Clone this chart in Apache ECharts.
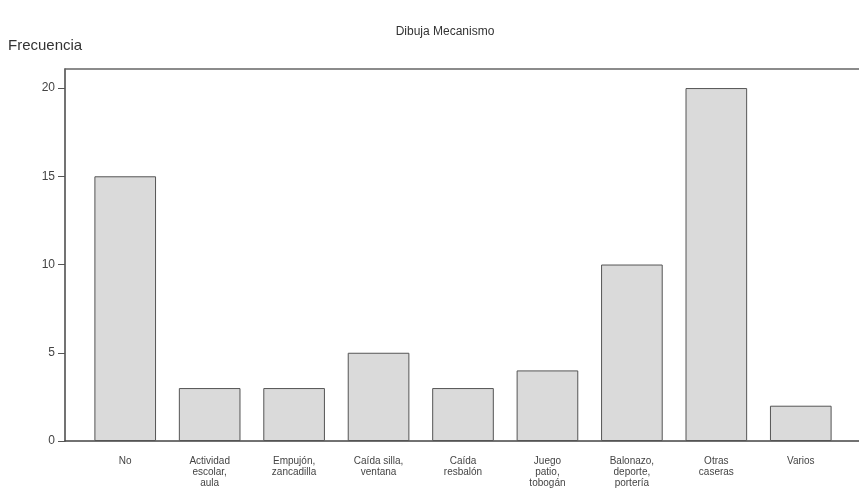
<!DOCTYPE html>
<html>
<head>
<meta charset="utf-8">
<style>
  html, body { margin: 0; padding: 0; background: #fff; }
  #chart { width: 859px; height: 492px; }
</style>
<script src="https://cdn.jsdelivr.net/npm/echarts@6/dist/echarts.min.js"></script>
</head>
<body>
<div id="chart"></div>
<script>
// datos del grafico
var categorias = ['No', 'Actividad\nescolar,\naula', 'Empujón,\nzancadilla', 'Caída silla,\nventana',
    'Caída\nresbalón', 'Juego\npatio,\ntobogán', 'Balonazo,\ndeporte,\nportería', 'Otras\ncaseras', 'Varios'];
var frecuencias = [15, 3, 3, 5, 3, 4, 10, 20, 2];
var ticksY = [0, 5, 10, 15, 20];

(function () {
    var myChart = echarts.init(document.getElementById('chart'));

    var option = {
        animation: false,
        title: {
            text: 'Dibuja Mecanismo',
            left: 440,
            top: 21,
            textAlign: 'center',
            textStyle: { fontFamily: 'Liberation Sans Narrow, Liberation Sans', fontSize: 12, fontWeight: 'normal', color: '#333' }
        },
        graphic: [{
            type: 'text',
            left: 8,
            top: 38,
            style: { text: 'Frecuencia', fontFamily: 'Liberation Sans', fontSize: 15, fill: '#333' }
        }],
        grid: [
            { left: 83, right: 16, top: 69, bottom: 51 },   // barras
            { left: 65, right: 0, top: 69, bottom: 51 }     // marco
        ],
        xAxis: [{
            type: 'category',
            gridIndex: 0,
            data: categorias,
            axisLine: { show: false },
            axisTick: { alignWithLabel: true, length: 5, lineStyle: { color: '#555' } },
            axisLabel: {
                interval: 0,
                margin: 15,
                fontFamily: 'Liberation Sans',
                fontSize: 10,
                lineHeight: 11,
                color: '#444'
            }
        }, {
            type: 'value', gridIndex: 1, min: 0, max: 1, position: 'bottom',
            axisLine: { show: true, lineStyle: { color: '#444', width: 1.5 } },
            axisTick: { show: false }, axisLabel: { show: false }, splitLine: { show: false }
        }, {
            type: 'value', gridIndex: 1, min: 0, max: 1, position: 'top',
            axisLine: { show: true, lineStyle: { color: '#666', width: 1.5 } },
            axisTick: { show: false }, axisLabel: { show: false }, splitLine: { show: false }
        }],
        yAxis: [{
            type: 'value',
            gridIndex: 0,
            min: 0,
            max: 21.08,
            interval: 5,
            offset: 18,
            axisLine: { show: false },
            axisTick: { show: true, length: 7, lineStyle: { color: '#555' } },
            splitLine: { show: false },
            axisLabel: {
                showMaxLabel: false,
                margin: 10,
                fontFamily: 'Liberation Sans',
                fontSize: 12,
                color: '#444',
                formatter: function (v) { return ticksY.indexOf(v) >= 0 ? v : ''; }
            }
        }, {
            type: 'value', gridIndex: 1, min: 0, max: 1,
            axisLine: { show: true, lineStyle: { color: '#444', width: 1.5 } },
            axisTick: { show: false }, axisLabel: { show: false }, splitLine: { show: false }
        }],
        series: [{
            type: 'bar',
            xAxisIndex: 0,
            yAxisIndex: 0,
            data: frecuencias,
            barCategoryGap: '27%',
            itemStyle: { color: '#dadada', borderColor: '#555', borderWidth: 1 }
        }]
    };

    myChart.setOption(option);
})();
</script>
</body>
</html>
